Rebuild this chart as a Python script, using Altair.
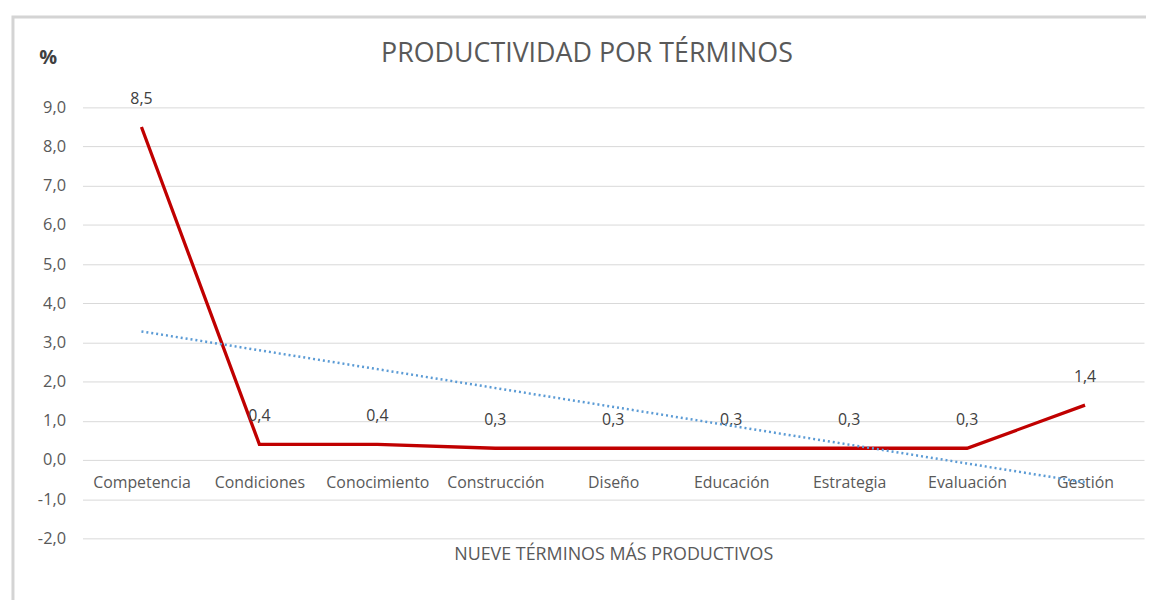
import altair as alt
import pandas as pd

categories = ["Competencia", "Condiciones", "Conocimiento", "Construcción", "Diseño",
              "Educación", "Estrategia", "Evaluación", "Gestión"]
values = [8.5, 0.4, 0.4, 0.3, 0.3, 0.3, 0.3, 0.3, 1.4]
y_ticks = list(range(-2, 10))

df = pd.DataFrame({"idx": list(range(1, len(categories) + 1)),
                   "cat": categories, "value": values})

FONT = "Open Sans"
GRAY = "#595959"

label_expr = "[" + ",".join("'" + c + "'" for c in categories) + "][datum.value - 1]"
num_expr = "(datum.value < 0 ? '-' : '') + replace(format(abs(datum.value), '.1f'), '.', ',')"

x_enc = alt.X(
    "idx:Q",
    scale=alt.Scale(domain=[0.5, len(categories) + 0.5], nice=False, zero=False),
    axis=alt.Axis(values=list(range(1, len(categories) + 1)), labelExpr=label_expr,
                  offset=-79, domain=False, ticks=False, grid=False, labelPadding=15,
                  labelFontSize=16, labelColor=GRAY, labelFont=FONT, labelOverlap=False,
                  title="NUEVE TÉRMINOS MÁS PRODUCTIVOS", titleFont=FONT,
                  titleFontWeight="normal", titleFontSize=18, titleColor=GRAY,
                  titleY=95, titleBaseline="middle"),
)
y_enc = alt.Y(
    "value:Q",
    scale=alt.Scale(domain=[-2, 9], nice=False, zero=False),
    axis=alt.Axis(values=y_ticks, tickCount=len(y_ticks),
                  labelExpr=num_expr,
                  labelOverlap=False, domain=False, ticks=False, gridColor="#D9D9D9",
                  gridWidth=1, labelPadding=17, labelFontSize=16.5, labelColor=GRAY,
                  labelFont=FONT, title="%", titleAngle=0, titleX=-35, titleY=-50,
                  titleAlign="center", titleBaseline="middle", titleFontSize=20,
                  titleFontWeight="bold", titleColor="#404040", titleFont=FONT),
)

base = alt.Chart(df)

line = base.mark_line(color="#C00000", strokeWidth=3.3).encode(x=x_enc, y=y_enc)

labels = base.transform_calculate(
    label="replace(format(datum.value, '.1f'), '.', ',')"
).mark_text(dy=-28, fontSize=16, color="#404040", font=FONT).encode(
    x=x_enc, y=y_enc, text="label:N")

trend = base.transform_regression("idx", "value", extent=[1, len(categories)]).mark_line(
    color="#5B9BD5", strokeDash=[2, 3], strokeWidth=2.5).encode(x=x_enc, y=y_enc)

deco = pd.DataFrame({"title": ["PRODUCTIVIDAD POR TÉRMINOS"]})

frame = alt.Chart(deco).mark_rect(
    fill=None, stroke="#D4D4D4", strokeWidth=3).encode(
    x=alt.value(-70), x2=alt.value(1100), y=alt.value(-91), y2=alt.value(530))

title = alt.Chart(deco).mark_text(
    fontSize=27, color=GRAY, font=FONT, align="center", baseline="middle").encode(
    x=alt.value(508), y=alt.value(-54), text="title:N")

chart = alt.layer(frame, title, line, labels, trend).properties(
    width=1069, height=434,
    autosize=alt.AutoSizeParams(type="none"),
    padding={"left": 75, "top": 98, "right": 2, "bottom": 60},
).configure_view(stroke=None)

chart.save("out.html", embed_options={"renderer": "svg", "actions": False})
